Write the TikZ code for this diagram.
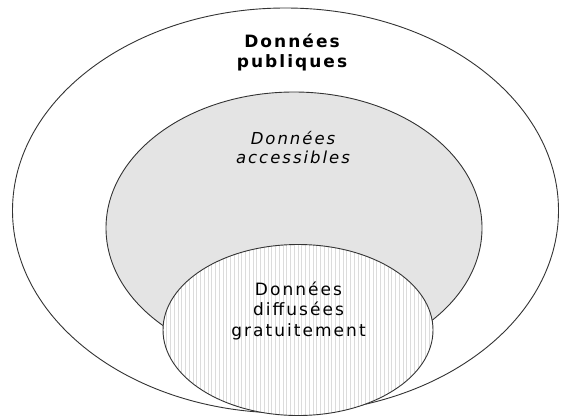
\documentclass[tikz,border=0pt]{standalone}
\usepackage{fontspec}
\setmainfont{DejaVu Sans}
\newfontfamily\lblfont[LetterSpace=12]{DejaVu Sans}
\tikzset{
  outline/.style={draw=black!80, line width=0.9pt},
  lbl/.style={align=center, font=\lblfont\fontsize{17}{20.5}\selectfont, inner sep=0pt},
}
\definecolor{accgray}{HTML}{E4E4E4}
\definecolor{hatchgray}{HTML}{DCDCDC}
\begin{document}
\begin{tikzpicture}[x=1pt,y=-1pt]
\useasboundingbox (0,0) rectangle (561,418);
% outer ellipse
\path[outline, fill=white] (285.5,210.5) ellipse [x radius=273, y radius=202.5];
% accessible data ellipse
\path[outline, fill=accgray] (294,228) ellipse [x radius=188, y radius=136];
% free data ellipse with vertical hatching
\fill[white] (298,330) ellipse [x radius=135, y radius=85.5];
\begin{scope}
  \clip (298,330) ellipse [x radius=135, y radius=85.5];
  \foreach \i in {0,...,73} {
    \draw[hatchgray, line width=0.8pt] (163+\i*3.75,240) -- (163+\i*3.75,420);
  }
\end{scope}
\draw[outline] (298,330) ellipse [x radius=135, y radius=85.5];
% labels
\node[lbl, font=\lblfont\bfseries\fontsize{17}{19.5}\selectfont] (pub) at (292,52.5) {Données\\publiques};
\node[lbl, font=\lblfont\itshape\fontsize{16.5}{19.5}\selectfont] (acc) at (293,147.5) {Données\\accessibles};
\node[lbl] (free) at (298.5,310.5) {Données\\diffusées\\gratuitement};
\end{tikzpicture}
\end{document}
